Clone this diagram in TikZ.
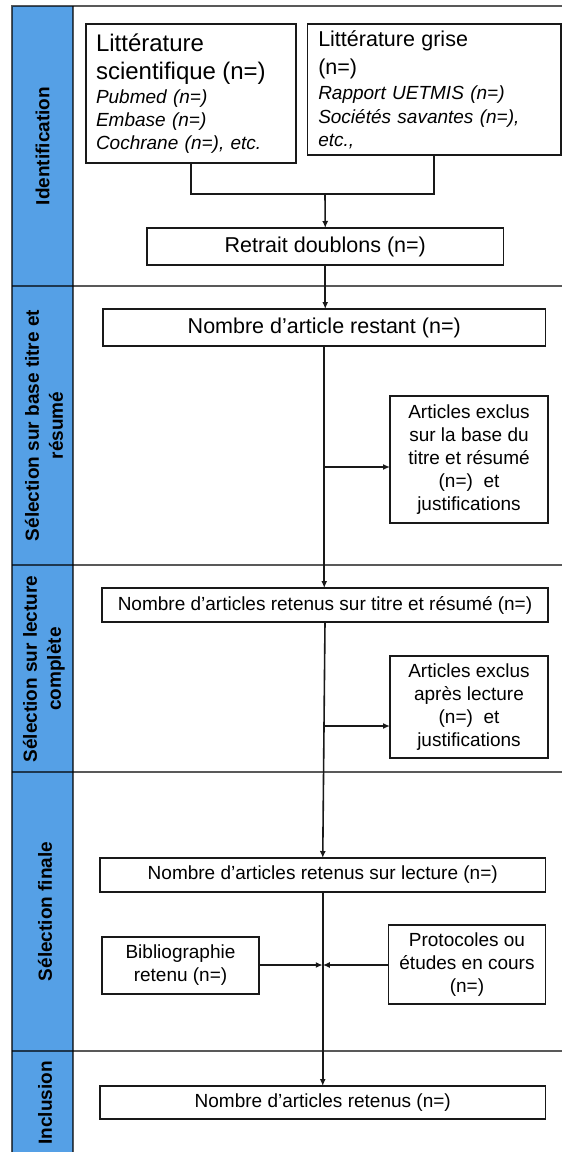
\documentclass[tikz,border=0pt]{standalone}
\usepackage{fontspec}
\setmainfont{Liberation Sans}
\usetikzlibrary{arrows.meta,calc}
\setlength{\parindent}{0pt}
\definecolor{laneblue}{RGB}{85,160,230}
\definecolor{boxline}{RGB}{25,25,25}
\begin{document}
\begin{tikzpicture}[x=1pt,y=-1pt,
  box/.style={draw=boxline, line width=1.6pt, inner sep=0pt, outer sep=0pt,
              align=center, font=\fontsize{19}{23}\selectfont},
  link/.style={draw=boxline, line width=1.6pt},
  arr/.style={link, -{Latex[length=7pt,width=6pt]}},
  lanelabel/.style={rotate=90, align=center, font=\bfseries\fontsize{19}{24}\selectfont},
  sep/.style={draw=black, draw opacity=0.65, line width=2pt}]
\useasboundingbox (0,0) rectangle (562,1152);

% phase column and frame
\fill[laneblue] (12,6) rectangle (73,1160);
\draw[sep] (12,1160) -- (12,6) -- (570,6);
\draw[sep] (73,6) -- (73,1160);
\foreach \yy in {286,565,772,1051}
  \draw[sep] (12,\yy) -- (570,\yy);

% phase labels
\node[lanelabel] (lIdent) at (42.5,146) {Identification};
\node[lanelabel] (lTitre) at (44,425.5) {Sélection sur base titre et\\résumé};
\node[lanelabel] (lLect) at (44,669) {Sélection sur lecture\\complète};
\node[lanelabel] (lFin) at (45,911.5) {Sélection finale};
\node[lanelabel] (lIncl) at (45,1103) {Inclusion};

% identification
\node[box, minimum width=210pt, minimum height=139pt, text width=190pt, align=left] (ls) at (191,93.5)
  {\fontsize{24}{28}\selectfont Littérature\par scientifique (n=)\par
   \vspace{1.5pt}\fontsize{19}{23}\selectfont\itshape Pubmed (n=)\par Embase (n=)\par Cochrane (n=), etc.};
\node[box, minimum width=253.5pt, minimum height=131pt, text width=232pt, align=left] (lg) at (434.25,89.5)
  {\vspace{2pt}\fontsize{21.5}{26}\selectfont Littérature grise\par (n=)\par
   \vspace{1pt}\fontsize{19}{24}\selectfont\itshape Rapport UETMIS (n=)\par Sociétés savantes (n=),\par etc.,};
\node[box, minimum width=356.5pt, minimum height=37pt, font=\fontsize{21.5}{25}\selectfont] (retrait) at (325.25,246.5) {Retrait doublons (n=)};

% screening on title and abstract
\node[box, minimum width=442.5pt, minimum height=37pt, font=\fontsize{21.5}{25}\selectfont] (restant) at (324.25,327.5) {Nombre d’article restant (n=)};
\node[box, minimum width=158pt, minimum height=127pt] (excl1) at (469,459.5)
  {Articles exclus\\sur la base du\\titre et résumé\\(n=)~ et\\justifications};

% screening on full text
\node[box, minimum width=446pt, minimum height=34pt] (titre) at (325,605) {Nombre d’articles retenus sur titre et résumé (n=)};
\node[box, minimum width=158pt, minimum height=102pt] (excl2) at (469,707)
  {Articles exclus\\après lecture\\(n=)~ et\\justifications};

% final selection
\node[box, minimum width=445.5pt, minimum height=34pt] (lecture) at (322.75,875) {Nombre d’articles retenus sur lecture (n=)};
\node[box, minimum width=157pt, minimum height=57pt] (biblio) at (180.5,965.5) {Bibliographie\\retenu (n=)};
\node[box, minimum width=157pt, minimum height=79pt] (proto) at (467,964.5) {Protocoles ou\\études en cours\\(n=)};

% inclusion
\node[box, minimum width=445.5pt, minimum height=33pt] (final) at (322.75,1102.5) {Nombre d’articles retenus (n=)};

% connectors
\coordinate (merge) at (325,194);
\draw[link] (ls.south) |- (merge) -| (lg.south);
\draw[arr] (merge) -- (retrait.north);
\draw[arr] (retrait.south) -- (retrait.south |- restant.north);
\draw[arr] (restant.south) -- (restant.south |- titre.north);
\coordinate (j1) at (restant.south |- 0,467);
\draw[arr] (j1) -- (j1 -| excl1.west);
\draw[arr] (titre.south) -- (lecture.north);
\coordinate (j2) at ($(titre.south)!0.4407!(lecture.north)$);
\draw[arr] (j2) -- (j2 -| excl2.west);
\draw[arr] (lecture.south) -- (final.north);
\coordinate (j3) at (322.75,965);
\draw[arr] (j3 -| biblio.east) -- (j3);
\draw[arr] (j3 -| proto.west) -- (j3);
\end{tikzpicture}
\end{document}
